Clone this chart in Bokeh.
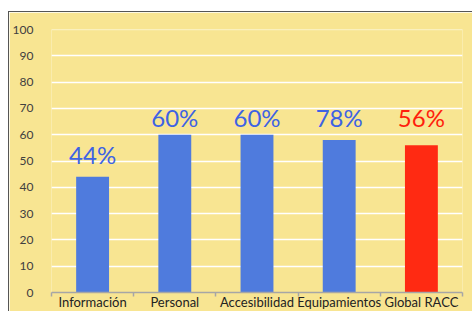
from bokeh.plotting import figure
from bokeh.models import Range1d, FixedTicker, Span, ColumnDataSource
from bokeh.core.properties import value
from bokeh.embed import file_html
from bokeh.resources import INLINE

categories = ["Información", "Personal", "Accesibilidad", "Equipamientos", "Global RACC"]
values = [44, 60, 60, 58, 56]
labels = ["44%", "60%", "60%", "78%", "56%"]
label_y = [52.5, 66.5, 66.5, 66.5, 66.5]
bar_colors = ["#4F7BDD", "#4F7BDD", "#4F7BDD", "#4F7BDD", "#FF2A12"]
label_colors = ["#3E63E4", "#3E63E4", "#3E63E4", "#3E63E4", "#FF1E0C"]
y_ticks = [0, 10, 20, 30, 40, 50, 60, 70, 80, 90, 100]

xs = [i + 0.5 for i in range(len(categories))]
src = ColumnDataSource(dict(x=xs, v=values, lab=labels, ly=label_y,
                            bc=bar_colors, lc=label_colors))

YELLOW = "#F8E592"
p = figure(width=464, height=300, output_backend="svg", toolbar_location=None,
           x_range=Range1d(0, len(categories)), y_range=Range1d(0, 100),
           background_fill_color=YELLOW, border_fill_color=YELLOW,
           min_border_left=41, min_border_right=11, min_border_top=17,
           min_border_bottom=20)
p.styles = {"margin-left": "8px", "margin-top": "11px",
            "border-top": "1px solid #555555", "border-left": "1px solid #555555"}
p.outline_line_color = None

p.vbar(x="x", top="v", width=0.4, bottom=0, fill_color="bc", line_color=None, source=src)
p.text(x="x", y="ly", text="lab", text_color="lc", text_align="center",
       text_baseline="middle", text_font=value("Lato"), text_font_size="24px",
       source=src)

# grid
p.xgrid.grid_line_color = None
p.ygrid.ticker = FixedTicker(ticks=y_ticks[1:-1])
p.ygrid.grid_line_color = "white"
p.ygrid.grid_line_width = 1.5
p.add_layout(Span(location=y_ticks[-1], dimension="width", line_color="white",
                  line_alpha=0.45, line_width=1.5))

# y axis
p.yaxis.ticker = FixedTicker(ticks=y_ticks)
p.yaxis.axis_line_color = None
p.yaxis.major_tick_line_color = None
p.yaxis.minor_tick_line_color = None
p.yaxis.major_label_standoff = 12
p.yaxis.major_label_text_font = "Lato"
p.yaxis.major_label_text_font_size = "12px"
p.yaxis.major_label_text_color = "#404040"

# x axis: category names at bar centres, small ticks at category boundaries
p.xaxis.ticker = FixedTicker(ticks=xs, minor_ticks=list(range(len(categories) + 1)))
p.xaxis.major_label_overrides = {x: c for x, c in zip(xs, categories)}
p.xaxis.axis_line_color = "#A6A6A6"
p.xaxis.axis_line_width = 1.5
p.xaxis.major_tick_line_color = None
p.xaxis.major_tick_in = 0
p.xaxis.major_tick_out = 0
p.xaxis.minor_tick_line_color = "#A6A6A6"
p.xaxis.minor_tick_line_width = 1.5
p.xaxis.minor_tick_in = 0
p.xaxis.minor_tick_out = 4
p.xaxis.major_label_standoff = -3
p.xaxis.major_label_text_font = "Lato"
p.xaxis.major_label_text_font_size = "13px"
p.xaxis.major_label_text_color = "#222222"

open("out.html", "w").write(file_html(p, INLINE))
